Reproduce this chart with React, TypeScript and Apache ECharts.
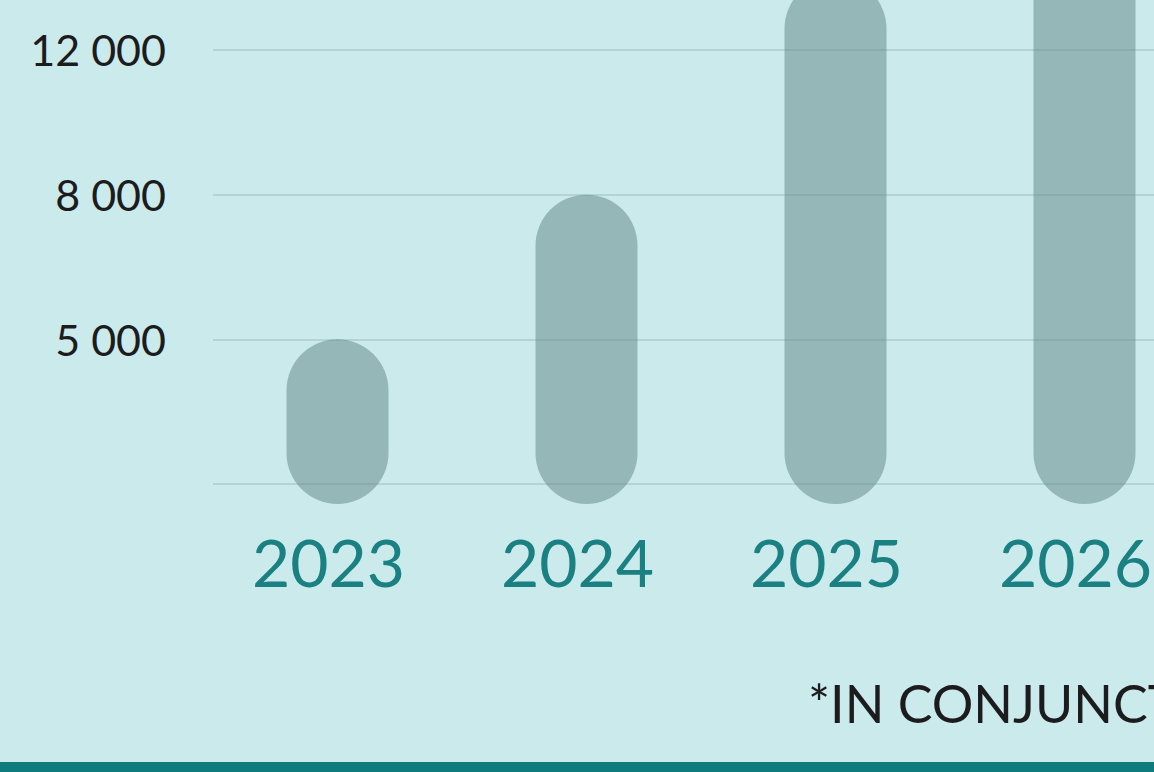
import React, { useEffect, useRef } from "react";
import * as echarts from "echarts";

const years = ["2023", "2024", "2025", "2026"];
const values = [5000, 8000, 14000, 18000];
const tickValues = [0, 5000, 8000, 12000];
const tickLabels = ["", "5 000", "8 000", "12 000"];
const footnote = "*IN CONJUNCTION";

// piecewise mapping of a value to the (evenly spaced) tick index used by the axis
function toAxis(v: number): number {
  for (let i = 1; i < tickValues.length; i++) {
    if (v <= tickValues[i]) {
      const a = tickValues[i - 1];
      const b = tickValues[i];
      return i - 1 + (v - a) / (b - a);
    }
  }
  const n = tickValues.length;
  const step = tickValues[n - 1] - tickValues[n - 2];
  return n - 1 + (v - tickValues[n - 1]) / step;
}

export default function App() {
  const ref = useRef<HTMLDivElement>(null);
  useEffect(() => {
    document.body.style.margin = "0";
    const chart = echarts.init(ref.current!, null, { renderer: "svg" });
    const font = "Lato, 'Open Sans', sans-serif";
    const gridLeft = 213;
    const gridBottom = 288;
    const unitX = 249; // px per category
    const unitY = 144.67; // px per tick step
    const xMax = -0.5 + (1154 - gridLeft) / unitX;
    const yMax = (772 - gridBottom) / unitY;
    chart.setOption({
      animation: false,
      backgroundColor: "#cbeaeb",
      grid: { left: gridLeft, right: 0, top: 0, bottom: gridBottom, outerBoundsMode: "none", containLabel: false },
      xAxis: {
        type: "value",
        min: -0.5,
        max: xMax,
        interval: 0.5,
        axisLine: { show: false },
        axisTick: { show: false },
        splitLine: { show: false },
        axisLabel: {
          color: "#1a8082",
          fontSize: 66,
          fontFamily: font,
          margin: 44,
          padding: [0, 18, 0, 0],
          hideOverlap: false,
          showMinLabel: true,
          showMaxLabel: true,
          formatter: (v: number) => (Number.isInteger(v) ? years[v] ?? "" : ""),
        },
      },
      yAxis: {
        type: "value",
        min: 0,
        max: yMax,
        interval: 1,
        axisLine: { show: false },
        axisTick: { show: false },
        axisLabel: {
          color: "#1c1c1e",
          fontSize: 43,
          fontFamily: font,
          margin: 47,
          formatter: (v: number) => (Number.isInteger(v) ? tickLabels[v] ?? "" : ""),
        },
        splitLine: { showMaxLine: false, lineStyle: { color: "#b2d4d5", width: 2 } },
      },
      series: [
        {
          type: "custom",
          data: values.map((v, i) => [i, toAxis(v)]),
          clip: false,
          renderItem: (params: any, api: any) => {
            const i = api.value(0);
            const top = api.coord([i, api.value(1)]);
            const base = api.coord([i, 0]);
            const w = 102;
            const bottom = base[1] + 20;
            return {
              type: "rect",
              shape: { x: top[0] - w / 2, y: top[1], width: w, height: bottom - top[1], r: w / 2 },
              style: { fill: "rgba(95,132,133,0.5)" },
            };
          },
        },
      ],
      graphic: [
        {
          type: "text",
          left: 808,
          top: 677,
          style: { text: footnote, font: `52px ${font}`, fill: "#1c1c1e" },
        },
        {
          type: "rect",
          shape: { x: 0, y: 762, width: 1154, height: 10 },
          style: { fill: "#0f7b7d" },
        },
      ],
    });
    return () => chart.dispose();
  }, []);
  return <div ref={ref} style={{ position: "fixed", left: 0, top: 0, width: 1154, height: 772 }} />;
}
